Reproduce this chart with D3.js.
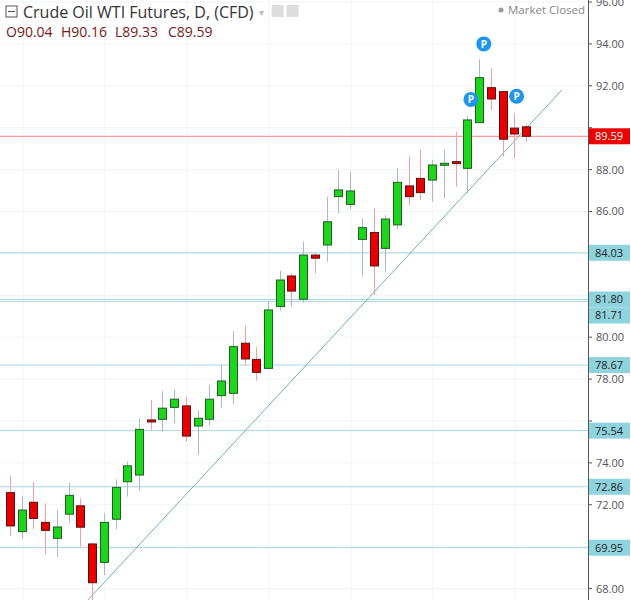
<!DOCTYPE html>
<html><head><meta charset="utf-8">
<script src="https://cdn.jsdelivr.net/npm/d3@7"></script>
<style>body{margin:0;background:#fff;font-family:"Open Sans",Roboto,sans-serif}</style>
</head><body><svg id="c" width="631" height="600"></svg>
<script>
const opens  = [72.58,70.72,72.12,71.16,70.40,71.55,71.95,70.13,69.25,71.31,73.10,73.42,76.05,76.08,76.65,76.72,75.76,76.08,77.21,77.32,79.71,78.94,78.51,81.46,82.92,81.81,83.92,84.40,86.71,86.34,84.67,85.00,84.24,85.36,87.22,87.58,87.50,88.25,88.38,88.06,90.24,91.91,91.72,89.98,90.04];
const highs  = [73.39,72.42,73.10,72.07,71.75,73.05,72.31,70.17,71.59,73.22,74.06,76.13,77.00,77.43,77.51,77.16,76.52,77.72,78.67,80.31,80.58,79.52,81.70,83.17,83.05,84.56,84.00,86.70,87.98,87.90,85.67,86.15,85.83,88.06,88.64,88.93,88.46,88.93,89.81,90.56,93.26,92.84,91.72,90.69,90.16];
const lows   = [70.51,70.37,70.83,69.60,69.51,71.12,70.00,67.45,68.65,70.84,72.39,72.67,75.57,75.49,75.89,75.01,74.38,75.78,76.60,76.81,78.67,77.92,78.47,81.26,81.46,81.65,83.05,83.60,85.91,86.10,82.89,82.01,83.13,85.15,86.31,86.55,86.47,86.63,87.18,86.87,90.24,90.84,88.62,88.54,89.33];
const closes = [70.99,71.75,71.35,70.78,70.94,72.45,70.93,68.28,71.16,72.83,73.86,75.60,76.02,76.61,77.04,75.28,76.13,77.04,77.91,79.55,78.96,78.32,81.30,82.73,82.20,83.92,83.77,85.51,87.03,86.98,85.23,83.40,85.64,87.39,86.71,86.90,88.22,88.30,88.32,90.37,92.39,91.37,89.45,89.70,89.59];
const levels = [84.03,81.80,81.71,78.67,75.54,72.86,69.95];
const lastPrice = 89.59;
const tickValues = [96,94,92,90,88,86,84,82,80,78,76,74,72,70,68];
const trend = [{i:6.65,p:67.46},{i:47.06,p:91.80}];
const pMarks = [{i:39.3,p:91.35},{i:40.4,p:94.0},{i:43.2,p:91.5}];
const title = "Crude Oil WTI Futures, D, (CFD)";
const ohlc = ["O90.04","H90.16","L89.33","C89.59"];

const svg = d3.select("#c");
const W=631,H=600,axX=588;
const y = d3.scaleLinear().domain([96.095,67.455]).range([0,600]);
const x = d3.scaleLinear().domain([0,44]).range([10,526]);
svg.append("defs").append("clipPath").attr("id","cp").append("rect").attr("width",axX).attr("height",H);
const g = svg.append("g").attr("clip-path","url(#cp)");
g.selectAll(".vg").data(d3.range(7)).join("line").attr("x1",d=>23+82*d).attr("x2",d=>23+82*d).attr("y1",0).attr("y2",H).attr("stroke","#f0f3f6");
g.selectAll(".hg").data(tickValues).join("line").attr("x1",0).attr("x2",axX).attr("y1",d=>y(d)).attr("y2",d=>y(d)).attr("stroke","#f0f3f6");
g.selectAll(".lv").data(levels).join("line").attr("x1",0).attr("x2",axX).attr("y1",d=>y(d)).attr("y2",d=>y(d)).attr("stroke","#a9d6e0");
g.append("line").attr("x1",0).attr("x2",axX).attr("y1",y(lastPrice)).attr("y2",y(lastPrice)).attr("stroke","#f08080");
g.append("line").attr("x1",x(trend[0].i)).attr("y1",y(trend[0].p)).attr("x2",x(trend[1].i)).attr("y2",y(trend[1].p)).attr("stroke","#6fb0b0");
const data = opens.map((o,i)=>({i,o,h:highs[i],l:lows[i],c:closes[i]}));
const cg = g.selectAll(".cd").data(data).join("g");
cg.append("line").attr("x1",d=>Math.round(x(d.i))+0.5).attr("x2",d=>Math.round(x(d.i))+0.5).attr("y1",d=>y(d.h)).attr("y2",d=>y(d.l))
  .attr("stroke",d=>d.c>=d.o?"#a8bcc8":"#f4a0a0");
cg.append("rect").attr("x",d=>Math.round(x(d.i))-3.5).attr("width",8)
  .attr("y",d=>y(Math.max(d.o,d.c))).attr("height",d=>Math.max(2,Math.abs(y(d.o)-y(d.c))))
  .attr("fill",d=>d.c>=d.o?"#1ed51e":"#e80000").attr("stroke",d=>d.c>=d.o?"#1f5f1f":"#5a1010");
const pm = g.selectAll(".pm").data(pMarks).join("g").attr("transform",d=>`translate(${x(d.i)},${y(d.p)})`);
pm.append("circle").attr("r",7.5).attr("fill","#1e96f0");
pm.append("text").text("P").attr("text-anchor","middle").attr("dy","4").attr("fill","#fff").attr("font-size",10).attr("font-weight","bold");
// axis
svg.append("line").attr("x1",axX+0.5).attr("x2",axX+0.5).attr("y1",0).attr("y2",H).attr("stroke","#555");
const boxYs = levels.map(d=>y(d)).concat([y(lastPrice)]);
const ax = svg.append("g");
ax.selectAll("line").data(tickValues).join("line").attr("x1",axX).attr("x2",axX+4).attr("y1",d=>y(d)).attr("y2",d=>y(d)).attr("stroke","#555");
ax.selectAll("text").data(tickValues.filter(t=>!boxYs.some(b=>Math.abs(b-y(t))<13)))
  .join("text").attr("x",axX+8).attr("y",d=>y(d)+4).text(d=>d3.format(".2f")(d)).attr("font-size",11).attr("fill","#555");
// label boxes; resolve collisions by pushing down
let prev=-99;
const lbl = levels.map(d=>{let yy=y(d); if(yy-prev<16) yy=prev+16; prev=yy; return {d,yy};});
const lb = svg.selectAll(".lb").data(lbl).join("g").attr("transform",d=>`translate(${axX+1},${d.yy})`);
lb.append("rect").attr("x",0).attr("y",-8).attr("width",41).attr("height",16).attr("fill","#8fd3df");
lb.append("text").attr("x",6).attr("y",4).text(d=>d3.format(".2f")(d.d)).attr("font-size",11).attr("fill","#222");
const lp = svg.append("g").attr("transform",`translate(${axX+1},${y(lastPrice)})`);
lp.append("rect").attr("x",0).attr("y",-8).attr("width",41).attr("height",16).attr("fill","#ee0000");
lp.append("text").attr("x",6).attr("y",4).text(d3.format(".2f")(lastPrice)).attr("font-size",11).attr("fill","#fff");
// header
svg.append("rect").attr("x",6).attr("y",6).attr("width",11).attr("height",11).attr("fill","none").attr("stroke","#555");
svg.append("line").attr("x1",8).attr("x2",15).attr("y1",11.5).attr("y2",11.5).attr("stroke","#555");
const tt = svg.append("text").attr("x",23).attr("y",18).text(title).attr("font-size",16).attr("fill","#333");
const tw = tt.node().getComputedTextLength();
svg.append("text").attr("x",23+tw+5).attr("y",16).text("▾").attr("font-size",10).attr("fill","#bbb");
svg.append("rect").attr("x",23+tw+18).attr("y",5).attr("width",12).attr("height",12).attr("fill","#ddd");
svg.append("rect").attr("x",23+tw+33).attr("y",5).attr("width",12).attr("height",12).attr("fill","#ddd");
const ot = svg.append("text").attr("x",6).attr("y",37).attr("font-size",14).attr("fill","#7a1a1a");
ohlc.forEach((s,k)=>ot.append("tspan").attr("x",6+[0,55,109,162][k]).text(s));
svg.append("circle").attr("cx",501).attr("cy",10).attr("r",2.5).attr("fill","#999");
svg.append("text").attr("x",508).attr("y",14).text("Market Closed").attr("font-size",11.5).attr("fill","#888");
</script></body></html>
